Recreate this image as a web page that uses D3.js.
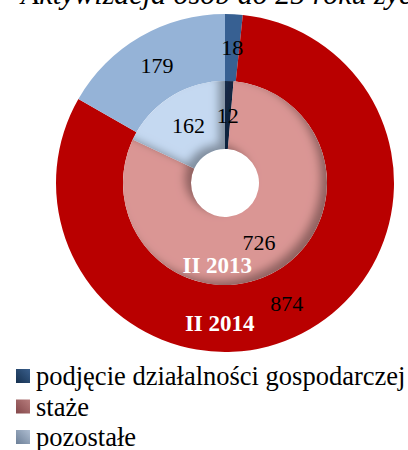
<!DOCTYPE html>
<html>
<head>
<meta charset="utf-8">
<script src="https://cdn.jsdelivr.net/npm/d3@7"></script>
<style>
  html, body { margin: 0; padding: 0; background: #fff; }
  svg { display: block; }
  text { font-family: "Liberation Serif", "Times New Roman", serif; }
</style>
</head>
<body>
<div id="chart"></div>
<script>
{ // start block scope

  // data
  const categories = ['podjęcie działalności gospodarczej', 'staże', 'pozostałe'];
  const series = ['II 2013', 'II 2014'];
  const values2013 = [12, 726, 162];
  const values2014 = [18, 874, 179];
  const title = 'Aktywizacja osób do 25 roku życia';

  // colours
  const color = {
    outer: ['#376092', '#b90000', '#95b3d7'],
    inner: ['#1f3a60', '#da9694', '#c5d9f1'],
    legend: [['#3a5f8c', '#15304f'], ['#b77d7d', '#83474a'], ['#aebdd1', '#6c7f97']]
  };

  const serif = '"Liberation Serif", "Times New Roman", serif';

  // constants
  const width = 408;
  const height = 450;
  const cx = 225;
  const cy = 183;
  const rHole = 34;
  const rMid = 102;
  const rOuter = 169;

  const svg = d3.select('#chart')
    .append('svg')
    .attr('width', width)
    .attr('height', height);

  const defs = svg.append('defs');

  // inner shadow for the inner ring
  const filter = defs.append('filter')
    .attr('id', 'inset')
    .attr('x', '-20%').attr('y', '-20%')
    .attr('width', '140%').attr('height', '140%');
  filter.append('feOffset').attr('in', 'SourceAlpha').attr('dx', -7).attr('dy', -5).attr('result', 'off');
  filter.append('feGaussianBlur').attr('in', 'off').attr('stdDeviation', 4).attr('result', 'blur');
  filter.append('feComposite').attr('operator', 'out').attr('in', 'SourceAlpha').attr('in2', 'blur').attr('result', 'inverse');
  filter.append('feFlood').attr('flood-color', '#000').attr('flood-opacity', 0.6).attr('result', 'col');
  filter.append('feComposite').attr('operator', 'in').attr('in', 'col').attr('in2', 'inverse').attr('result', 'shadow');
  filter.append('feComposite').attr('operator', 'over').attr('in', 'shadow').attr('in2', 'SourceGraphic');

  // legend gradients
  color.legend.forEach((c, i) => {
    const lg = defs.append('linearGradient')
      .attr('id', 'lg' + i)
      .attr('x1', 1).attr('y1', 0).attr('x2', 0).attr('y2', 1);
    lg.append('stop').attr('offset', 0).attr('stop-color', c[0]);
    lg.append('stop').attr('offset', 1).attr('stop-color', c[1]);
  });

  // title (cut off at the top edge)
  svg.append('text')
    .attr('x', 21)
    .attr('y', 4)
    .attr('font-family', serif)
    .attr('font-size', 30)
    .attr('font-style', 'italic')
    .attr('fill', '#000')
    .text(title);

  const g = svg.append('g')
    .attr('transform', `translate(${cx}, ${cy})`);

  const pie = d3.pie().sort(null).value(d => d);

  const arcOuter = d3.arc().innerRadius(rMid).outerRadius(rOuter);
  const arcInner = d3.arc().innerRadius(rHole).outerRadius(rMid);

  const outerData = pie(values2014);
  const innerData = pie(values2013);

  // outer ring (II 2014)
  g.append('g')
    .selectAll('path')
    .data(outerData)
    .join('path')
    .attr('d', arcOuter)
    .attr('fill', (d, i) => color.outer[i]);

  // inner ring (II 2013)
  g.append('g')
    .selectAll('path')
    .data(innerData)
    .join('path')
    .attr('d', arcInner)
    .attr('fill', (d, i) => color.inner[i])
    .attr('filter', 'url(#inset)');

  // value labels
  const labelFont = 22;
  [[outerData, arcOuter], [innerData, arcInner]].forEach(([data, arc]) => {
    g.append('g')
      .selectAll('text')
      .data(data)
      .join('text')
      .attr('transform', d => `translate(${arc.centroid(d)})`)
      .attr('dy', '0.35em')
      .attr('text-anchor', 'middle')
      .attr('font-family', serif)
      .attr('font-size', labelFont)
      .attr('fill', '#000')
      .text(d => d.data);
  });

  // series names
  const seriesRadius = [(rHole + rMid) / 2 + 14, (rMid + rOuter) / 2 + 5];
  const seriesAngle = [Math.PI * 1.03, Math.PI * 1.012];
  series.forEach((s, i) => {
    const a = seriesAngle[i];
    g.append('text')
      .attr('x', seriesRadius[i] * Math.sin(a))
      .attr('y', -seriesRadius[i] * Math.cos(a))
      .attr('dy', '0.35em')
      .attr('text-anchor', 'middle')
      .attr('font-family', serif)
      .attr('font-size', 23)
      .attr('font-weight', 'bold')
      .attr('fill', '#fff')
      .text(s);
  });

  // legend
  const legend = svg.append('g')
    .attr('transform', 'translate(16, 369)');
  const rows = legend.selectAll('g')
    .data(categories)
    .join('g')
    .attr('transform', (d, i) => `translate(0, ${i * 30.5})`);
  rows.append('rect')
    .attr('width', 14)
    .attr('height', 14)
    .attr('fill', (d, i) => `url(#lg${i})`);
  rows.append('text')
    .attr('x', 20)
    .attr('y', 7)
    .attr('dy', '0.35em')
    .attr('font-family', serif)
    .attr('font-size', 26.5)
    .attr('fill', '#000')
    .text(d => d);

} // end block scope
</script>
</body>
</html>
